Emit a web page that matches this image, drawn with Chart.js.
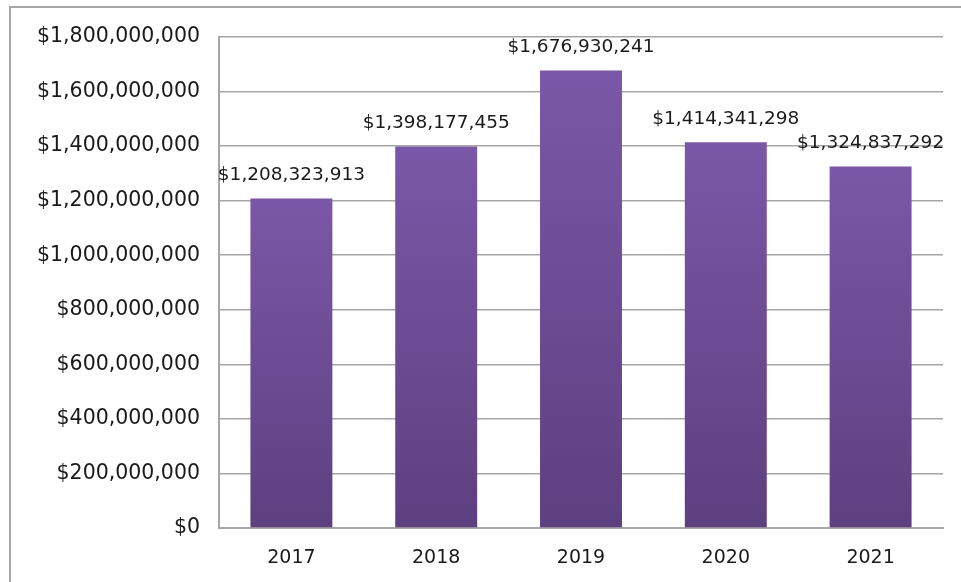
<!DOCTYPE html>
<html>
<head>
<meta charset="utf-8">
<script src="https://cdn.jsdelivr.net/npm/chart.js@4.4.1/dist/chart.umd.min.js"></script>
<style>
  html, body { margin: 0; padding: 0; background: #fff; overflow: hidden; }
  #frame {
    position: absolute; left: 9px; top: 6px;
    width: 1000px; height: 1000px;
    border-top: 2px solid #a6a6a6; border-left: 2px solid #a6a6a6;
  }
  #wrap { position: absolute; left: 0; top: 0; width: 961px; height: 582px; }
</style>
</head>
<body>
<div id="frame"></div>
<div id="wrap"><canvas id="chart"></canvas></div>
<script>
// ---------------- DATA ----------------
const years = ["2017", "2018", "2019", "2020", "2021"];
const totals = [1208323913, 1398177455, 1676930241, 1414341298, 1324837292];
const yMax = 1800000000;
const yStep = 200000000;

const fontFamily = "'DejaVu Sans', sans-serif";
const money = v => "$" + Math.round(v).toLocaleString("en-US");

// per-bar vertical gradient, light at the top, dark at the base
function barFill(context) {
  const chart = context.chart;
  const area = chart.chartArea;
  if (!area) return "#6e4e96";
  const yScale = chart.scales.y;
  const top = yScale.getPixelForValue(context.raw);
  const g = chart.ctx.createLinearGradient(0, top, 0, area.bottom);
  g.addColorStop(0, "#7b57a7");
  g.addColorStop(1, "#5d4080");
  return g;
}

// value labels above the bars
const valueLabels = {
  id: "valueLabels",
  afterDatasetsDraw(chart) {
    const ctx = chart.ctx;
    const meta = chart.getDatasetMeta(0);
    ctx.save();
    ctx.font = "18.5px " + fontFamily;
    ctx.fillStyle = "#1a1a1a";
    ctx.textAlign = "center";
    ctx.textBaseline = "middle";
    meta.data.forEach((bar, i) => {
      ctx.fillText(money(totals[i]), bar.x, bar.y - 23);
    });
    ctx.restore();
  }
};

new Chart(document.getElementById("chart"), {
  type: "bar",
  data: {
    labels: years,
    datasets: [{
      data: totals,
      backgroundColor: barFill,
      borderWidth: 0,
      categoryPercentage: 1,
      barPercentage: 0.566
    }]
  },
  options: {
    responsive: true,
    maintainAspectRatio: false,
    animation: false,
    layout: { padding: { top: 37, right: 18, left: 0, bottom: 0 } },
    plugins: {
      legend: { display: false },
      tooltip: { enabled: false }
    },
    scales: {
      x: {
        grid: { display: false, drawTicks: false },
        border: { display: true, color: "#a6a6a6", width: 2 },
        ticks: { color: "#1a1a1a", font: { family: fontFamily, size: 19 }, padding: 19 },
        afterFit: s => { s.height = 54; }
      },
      y: {
        min: 0,
        max: yMax,
        grid: { color: "#a6a6a6", lineWidth: 1.5, drawTicks: false },
        border: { display: true, color: "#a6a6a6", width: 2 },
        ticks: {
          stepSize: yStep,
          color: "#1a1a1a",
          font: { family: fontFamily, size: 20.5 },
          padding: 19,
          callback: v => money(v)
        },
        afterFit: s => { s.width = 219; }
      }
    }
  },
  plugins: [valueLabels]
});
</script>
</body>
</html>
